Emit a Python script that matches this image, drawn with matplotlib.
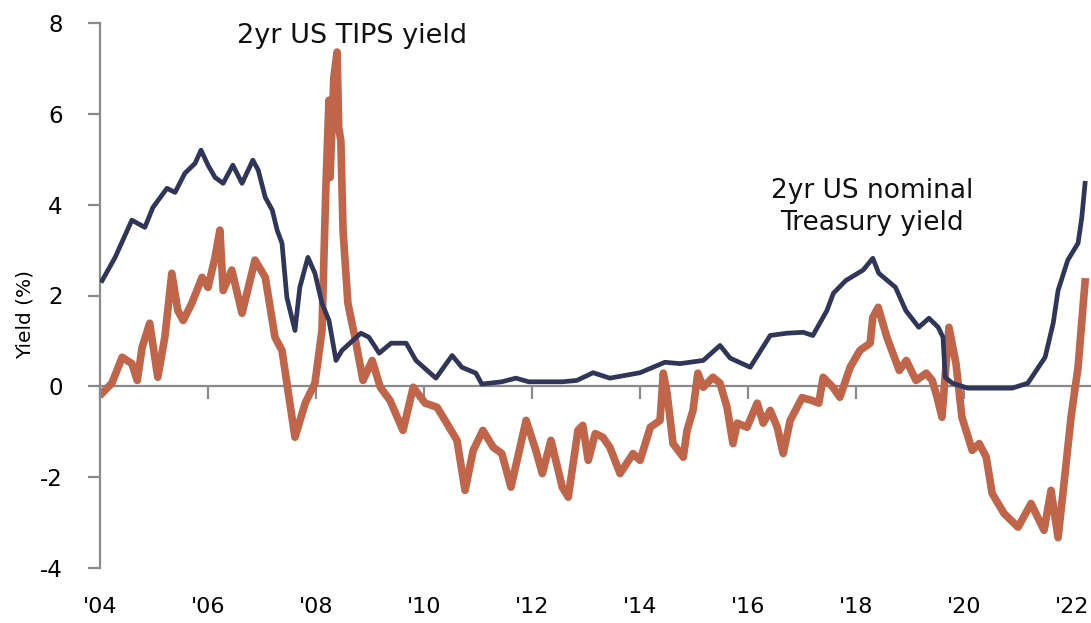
import matplotlib
matplotlib.use("Agg")
import matplotlib.pyplot as plt

# decimal years
nominal_t = [2004.04, 2004.28, 2004.59, 2004.83, 2004.98, 2005.24, 2005.39, 2005.57,
             2005.76, 2005.87, 2006.00, 2006.13, 2006.28, 2006.46, 2006.63, 2006.83,
             2006.93, 2007.06, 2007.19, 2007.28, 2007.37, 2007.46, 2007.61, 2007.70,
             2007.85, 2007.98, 2008.11, 2008.24, 2008.37, 2008.48, 2008.83, 2008.98,
             2009.17, 2009.39, 2009.67, 2009.85, 2010.22, 2010.52, 2010.70, 2010.96,
             2011.07, 2011.44, 2011.70, 2011.94, 2012.56, 2012.83, 2013.13, 2013.44,
             2014.00, 2014.46, 2014.74, 2015.17, 2015.48, 2015.67, 2016.04, 2016.41,
             2016.72, 2017.02, 2017.20, 2017.46, 2017.58, 2017.81, 2018.13, 2018.31,
             2018.42, 2018.73, 2018.92, 2019.16, 2019.35, 2019.52, 2019.61, 2019.65,
             2019.78, 2020.07, 2020.89, 2021.18, 2021.50, 2021.65, 2021.74, 2021.92,
             2022.11, 2022.18, 2022.24]
nominal_y = [2.33, 2.84, 3.66, 3.50, 3.94, 4.36, 4.27, 4.69,
             4.91, 5.20, 4.87, 4.60, 4.47, 4.87, 4.47, 4.98,
             4.76, 4.16, 3.88, 3.44, 3.15, 1.96, 1.23, 2.18,
             2.84, 2.49, 1.83, 1.45, 0.57, 0.79, 1.17, 1.08,
             0.73, 0.95, 0.95, 0.57, 0.18, 0.68, 0.42, 0.29,
             0.05, 0.10, 0.18, 0.10, 0.10, 0.13, 0.30, 0.18,
             0.30, 0.53, 0.50, 0.57, 0.90, 0.62, 0.42, 1.12,
             1.17, 1.19, 1.12, 1.67, 2.05, 2.33, 2.56, 2.82,
             2.49, 2.18, 1.67, 1.30, 1.50, 1.30, 1.08, 0.20,
             0.07, -0.04, -0.04, 0.07, 0.64, 1.39, 2.11, 2.78,
             3.15, 3.72, 4.47]

tips_t = [2004.04, 2004.22, 2004.41, 2004.59, 2004.69, 2004.78, 2004.92, 2005.07,
          2005.20, 2005.33, 2005.44, 2005.54, 2005.70, 2005.89, 2006.00, 2006.13,
          2006.22, 2006.28, 2006.44, 2006.63, 2006.87, 2007.06, 2007.24, 2007.37,
          2007.48, 2007.61, 2007.80, 2007.98, 2008.11, 2008.18, 2008.24, 2008.26,
          2008.33, 2008.39, 2008.42, 2008.46, 2008.50, 2008.59, 2008.72, 2008.87,
          2009.04, 2009.19, 2009.37, 2009.61, 2009.80, 2010.02, 2010.24, 2010.39,
          2010.61, 2010.76, 2010.91, 2011.09, 2011.28, 2011.44, 2011.61, 2011.89,
          2012.07, 2012.19, 2012.35, 2012.56, 2012.67, 2012.85, 2012.94, 2013.04,
          2013.17, 2013.31, 2013.44, 2013.63, 2013.87, 2014.00, 2014.19, 2014.37,
          2014.43, 2014.50, 2014.61, 2014.80, 2014.87, 2014.98, 2015.07, 2015.17,
          2015.35, 2015.48, 2015.61, 2015.72, 2015.80, 2015.98, 2016.17, 2016.28,
          2016.41, 2016.54, 2016.65, 2016.78, 2017.00, 2017.18, 2017.31, 2017.39,
          2017.57, 2017.70, 2017.89, 2018.07, 2018.26, 2018.31, 2018.41, 2018.57,
          2018.80, 2018.93, 2019.11, 2019.30, 2019.41, 2019.50, 2019.59, 2019.72,
          2019.85, 2019.96, 2020.15, 2020.28, 2020.41, 2020.52, 2020.74, 2021.00,
          2021.24, 2021.48, 2021.61, 2021.74, 2021.87, 2021.98, 2022.11, 2022.24]
tips_y = [-0.15, 0.07, 0.64, 0.50, 0.13, 0.86, 1.39, 0.20,
          1.08, 2.49, 1.67, 1.45, 1.83, 2.40, 2.18, 2.84,
          3.44, 2.11, 2.56, 1.61, 2.78, 2.40, 1.08, 0.79,
          -0.09, -1.12, -0.37, 0.07, 1.23, 4.30, 6.30, 4.60,
          6.80, 7.36, 5.70, 5.40, 3.44, 1.83, 1.08, 0.13,
          0.57, -0.02, -0.31, -0.97, -0.02, -0.37, -0.46, -0.75,
          -1.19, -2.29, -1.41, -0.97, -1.34, -1.48, -2.22, -0.75,
          -1.41, -1.92, -1.19, -2.22, -2.44, -0.97, -0.86, -1.63,
          -1.04, -1.12, -1.34, -1.92, -1.48, -1.63, -0.90, -0.75,
          0.29, -0.15, -1.26, -1.56, -0.97, -0.53, 0.29, -0.02,
          0.20, 0.07, -0.46, -1.26, -0.81, -0.90, -0.37, -0.81,
          -0.53, -0.90, -1.48, -0.75, -0.25, -0.31, -0.37, 0.20,
          -0.02, -0.24, 0.42, 0.79, 0.95, 1.52, 1.74, 1.08,
          0.35, 0.57, 0.13, 0.29, 0.13, -0.24, -0.68, 1.30,
          0.50, -0.68, -1.41, -1.26, -1.56, -2.36, -2.80, -3.10,
          -2.58, -3.17, -2.29, -3.33, -1.92, -0.68, 0.42, 2.30]

year_ticks = list(range(2004, 2023, 2))
year_labels = ["'04", "'06", "'08", "'10", "'12", "'14", "'16", "'18", "'20", "'22"]
yield_ticks = [-4, -2, 0, 2, 4, 6, 8]

NAVY = "#30365a"
ORANGE = "#c0654a"
GREY = "#8a8a8a"

plt.rcParams["font.family"] = ["DejaVu Sans"]
plt.rcParams["axes.unicode_minus"] = False

fig = plt.figure(figsize=(10.91, 6.23), dpi=100)
ax = fig.add_axes([100 / 1091, 55 / 623, 991 / 1091, 545 / 623])

ax.plot(tips_t, tips_y, color=ORANGE, lw=5.5, solid_joinstyle="round", zorder=2)
ax.plot(nominal_t, nominal_y, color=NAVY, lw=3.4, solid_joinstyle="round", zorder=3)

ax.set_xlim(2004, 2022.35)
ax.set_ylim(-4, 8)

for side in ["top", "right"]:
    ax.spines[side].set_visible(False)
ax.spines["bottom"].set_position(("data", 0))
ax.spines["bottom"].set_color(GREY)
ax.spines["left"].set_color(GREY)
ax.spines["bottom"].set_linewidth(1.6)
ax.spines["left"].set_linewidth(1.6)
ax.spines["bottom"].set_zorder(1)

ax.set_xticks(year_ticks)
ax.set_xticklabels(year_labels)
ax.set_yticks(yield_ticks)
ax.tick_params(axis="x", direction="out", length=9, width=1.6, color=GREY,
               labelsize=16, pad=143)
ax.tick_params(axis="y", direction="out", length=9, width=1.6, color=GREY,
               labelsize=16.5, pad=18)

ax.set_ylabel("Yield (%)", fontsize=14.5)
ax.yaxis.set_label_coords(-0.066, 0.465)

ax.text(2006.53, 7.72, "2yr US TIPS yield", fontsize=19.5, ha="left", va="center",
        color="#111111")
ax.text(2018.3, 3.95, "2yr US nominal\nTreasury yield", fontsize=19, ha="center",
        va="center", color="#111111", linespacing=1.3)

fig.savefig("out.png", dpi=100)
